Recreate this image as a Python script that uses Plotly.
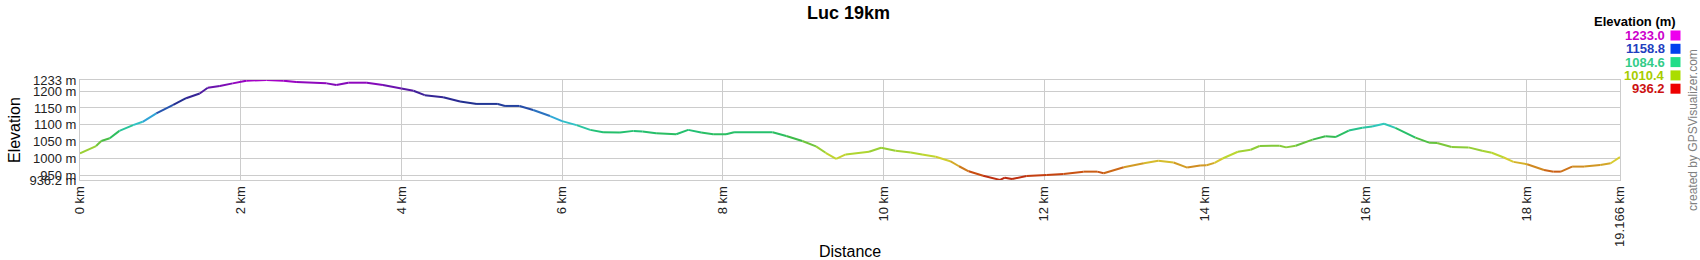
import plotly.graph_objects as go

# ---------------- data ----------------
dist_km = [0.00, 0.20, 0.265, 0.37, 0.49, 0.66, 0.78, 0.95, 1.16, 1.32, 1.49, 1.59, 1.74, 1.90,
           2.07, 2.32, 2.53, 2.69, 3.07, 3.19, 3.34, 3.57, 3.77, 4.00, 4.15, 4.29, 4.52, 4.73,
           4.94, 5.20, 5.29, 5.47, 5.64, 5.85, 6.00, 6.18, 6.35, 6.51, 6.72, 6.89, 7.00, 7.17,
           7.42, 7.57, 7.73, 7.88, 8.04, 8.14, 8.62, 8.79, 8.99, 9.16, 9.28, 9.41, 9.53, 9.82,
           9.97, 10.15, 10.34, 10.48, 10.65, 10.83, 10.94, 11.06, 11.24, 11.45, 11.51, 11.60,
           11.78, 12.03, 12.24, 12.49, 12.66, 12.74, 12.99, 13.24, 13.42, 13.61, 13.78, 13.94,
           14.02, 14.12, 14.22, 14.41, 14.57, 14.68, 14.93, 15.01, 15.13, 15.34, 15.50, 15.63,
           15.79, 15.96, 16.08, 16.23, 16.37, 16.62, 16.79, 16.89, 17.07, 17.28, 17.45, 17.57,
           17.72, 17.84, 18.01, 18.22, 18.34, 18.43, 18.57, 18.72, 18.92, 19.05, 19.166]
elev_m = [1015, 1037, 1052, 1060, 1082, 1099, 1109, 1134, 1159, 1179, 1193, 1210, 1215, 1223,
          1231, 1233, 1231, 1227, 1223, 1218, 1225, 1225, 1218, 1208, 1201, 1188, 1182, 1169,
          1162, 1162, 1156, 1156, 1144, 1126, 1111, 1099, 1085, 1078, 1077, 1082, 1080, 1075,
          1072, 1085, 1077, 1072, 1072, 1078, 1078, 1067, 1052, 1036, 1017, 999, 1012, 1020,
          1032, 1023, 1018, 1012, 1005, 992, 977, 962, 949, 936.5, 943, 939,
          948, 951, 954, 961, 961, 956, 974, 986, 993, 988, 973, 979,
          980, 987, 1000, 1020, 1026, 1037, 1038, 1033, 1038, 1056, 1066, 1064,
          1083, 1091, 1095, 1103, 1091, 1062, 1047, 1046, 1034, 1033, 1023, 1017,
          1003, 990, 983, 966, 961, 961, 976, 976, 981, 986, 1004]

x_tick_vals = [0, 2, 4, 6, 8, 10, 12, 14, 16, 18, 19.166]
x_tick_text = ["0 km", "2 km", "4 km", "6 km", "8 km", "10 km", "12 km", "14 km", "16 km",
               "18 km", "19.166 km"]
y_tick_vals = [936.2, 950, 1000, 1050, 1100, 1150, 1200, 1233]
y_tick_text = ["936.2 m", "950 m", "1000 m", "1050 m", "1100 m", "1150 m", "1200 m", "1233 m"]

legend_values = ["1233.0", "1158.8", "1084.6", "1010.4", "936.2"]
legend_text_colors = ["#CC00CC", "#1F3FBF", "#33CC88", "#A8CC00", "#CC1111"]
legend_box_colors = ["#EE00EE", "#0040EE", "#22DD88", "#AADD00", "#EE0000"]

# line colour ramp (elevation -> colour)
ramp_elev = [936.2, 955, 975, 995, 1012, 1040, 1060, 1080, 1100, 1120, 1140, 1165, 1195, 1215, 1233]
ramp_col = ["#B82010", "#C84A10", "#D08A20", "#D8CC30", "#B8D830", "#7CC83A", "#3CBB48",
            "#22C070", "#30C8C0", "#30A8D8", "#2860B8", "#203090", "#402098", "#7010B0", "#A800C8"]

FONT = "Liberation Sans, Arial, sans-serif"
W, H = 1700, 260
L, R, T, B = 80, 80, 80, 80
PW, PH = W - L - R, H - T - B


def hex2rgb(h):
    h = h.lstrip("#")
    return [int(h[i:i + 2], 16) for i in (0, 2, 4)]


def color_for(e):
    if e <= ramp_elev[0]:
        return ramp_col[0]
    for i in range(1, len(ramp_elev)):
        if e <= ramp_elev[i]:
            t = (e - ramp_elev[i - 1]) / (ramp_elev[i] - ramp_elev[i - 1])
            a, b = hex2rgb(ramp_col[i - 1]), hex2rgb(ramp_col[i])
            c = [round(a[k] + (b[k] - a[k]) * t) for k in range(3)]
            return "rgb(%d,%d,%d)" % tuple(c)
    return ramp_col[-1]


def px(xpix):
    return (xpix - L) / PW


def py(ypix):
    return (H - B - ypix) / PH


fig = go.Figure()
for i in range(len(dist_km) - 1):
    fig.add_trace(go.Scatter(
        x=[dist_km[i], dist_km[i + 1]], y=[elev_m[i], elev_m[i + 1]],
        mode="lines", line=dict(color=color_for((elev_m[i] + elev_m[i + 1]) / 2), width=2),
        hoverinfo="skip", showlegend=False))

axis_common = dict(showgrid=True, gridcolor="#CCCCCC", gridwidth=1, showline=True,
                   linecolor="#CCCCCC", linewidth=1, mirror=True, zeroline=False, ticks="",
                   tickfont=dict(family=FONT, size=13, color="#222222"))

fig.update_layout(
    width=W, height=H, margin=dict(l=L, r=R, t=T, b=B),
    paper_bgcolor="white", plot_bgcolor="white", showlegend=False,
    xaxis=dict(range=[0, 19.166], tickmode="array", tickvals=x_tick_vals, ticktext=x_tick_text,
               tickangle=-90, **axis_common),
    yaxis=dict(range=[936.2, 1233], tickmode="array", tickvals=y_tick_vals, ticktext=y_tick_text,
               **axis_common),
)

ann = []
ann.append(dict(text="<b>Luc 19km</b>", x=px(848), y=py(13), xref="paper", yref="paper",
                xanchor="center", yanchor="middle", showarrow=False,
                font=dict(family=FONT, size=18, color="#000000")))
ann.append(dict(text="Elevation", x=px(14), y=py(130), xref="paper", yref="paper",
                xanchor="center", yanchor="middle", textangle=-90, showarrow=False,
                font=dict(family=FONT, size=16, color="#000000")))
ann.append(dict(text="Distance", x=px(850), y=py(251), xref="paper", yref="paper",
                xanchor="center", yanchor="middle", showarrow=False,
                font=dict(family=FONT, size=16, color="#000000")))
ann.append(dict(text="<b>Elevation (m)</b>", x=px(1678), y=py(22), xref="paper", yref="paper",
                xanchor="right", yanchor="middle", showarrow=False,
                font=dict(family=FONT, size=13, color="#000000")))
ann.append(dict(text="created by GPSVisualizer.com", x=px(1693), y=py(130), xref="paper",
                yref="paper", xanchor="center", yanchor="middle", textangle=-90,
                showarrow=False, font=dict(family=FONT, size=12, color="#808080")))

shapes = []
for i, (v, tc, bc) in enumerate(zip(legend_values, legend_text_colors, legend_box_colors)):
    cy = 35.5 + i * 13.3
    ann.append(dict(text="<b>" + v + "</b>", x=px(1667), y=py(cy), xref="paper", yref="paper",
                    xanchor="right", yanchor="middle", showarrow=False,
                    font=dict(family=FONT, size=13, color=tc)))
    shapes.append(dict(type="rect", xref="paper", yref="paper",
                       x0=px(1670.5), x1=px(1680.5), y0=py(cy - 5), y1=py(cy + 5),
                       fillcolor=bc, line=dict(width=0)))

fig.update_layout(annotations=ann, shapes=shapes)
fig.write_html("out.html")
